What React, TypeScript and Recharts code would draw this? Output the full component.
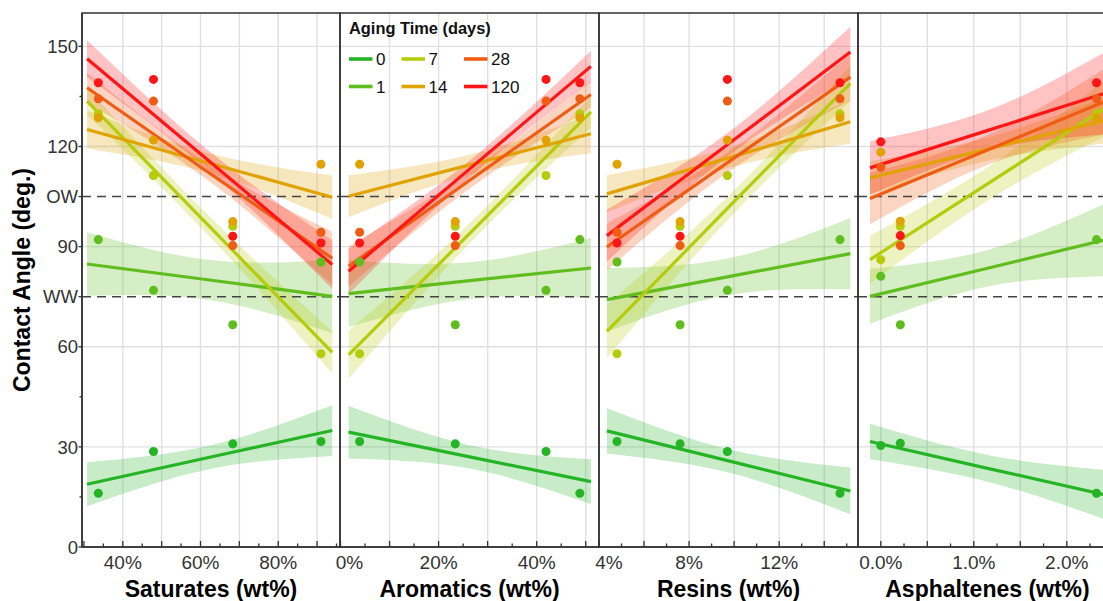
import React from 'react'
import { ComposedChart, Area, Line, Scatter, XAxis, YAxis, CartesianGrid, ReferenceLine } from 'recharts'

const FONT = '"Liberation Sans", Arial, Helvetica, sans-serif'

const AGING = ['0', '1', '7', '14', '28', '120']
const COLORS = ['#25b425', '#5fbd1e', '#b7cb0d', '#e1a203', '#ef5c14', '#fe1616']

// oil compositions (wt%), oils A..D
const SATURATES = [33.7, 47.9, 68.3, 91.0]
const AROMATICS = [48.8, 41.9, 23.4, 3.9]
const RESINS = [14.7, 9.7, 7.6, 4.8]
const ASPHALTENES = [0.0, 0.21, 2.32]

// contact angle (deg.) per oil, one row per aging time
const ANGLES = [
  [16.1, 28.6, 30.9, 31.6],
  [92.1, 76.9, 66.6, 85.4],
  [129.8, 111.3, 96.1, 57.9],
  [128.6, 121.9, 97.5, 114.7],
  [134.3, 133.6, 90.3, 94.3],
  [139.1, 140.1, 93.1, 91.1],
]
const ASPH_ANGLES = [
  [30.4, 31.1, 16.1],
  [81.1, 66.6, 92.1],
  [86.1, 96.1, 129.8],
  [118.3, 97.6, 128.6],
  [113.8, 90.3, 134.3],
  [121.4, 93.3, 139.1],
]

// fitted lines (left, middle, right) and band half widths
const SAT_FIT_X = [30.8, 62.35, 93.9]
const SAT_FIT = [
  [18.8, 26.9, 34.9],
  [84.8, 80.0, 75.1],
  [133.6, 96.0, 58.3],
  [125.1, 115.0, 104.8],
  [137.6, 112.0, 86.5],
  [146.3, 115.5, 84.6],
]
const SAT_BAND = [
  [6.6, 3.5, 7.6],
  [9.5, 6, 11],
  [4, 3, 6.3],
  [5.7, 3, 6.5],
  [4.5, 2.5, 8],
  [5.5, 3, 7.3],
]
const ARO_FIT_X = [1.65, 26.35, 51.05]
const ARO_FIT = [
  [34.4, 27.0, 19.6],
  [75.9, 79.8, 83.6],
  [57.6, 94.0, 130.4],
  [105.1, 114.5, 123.8],
  [84.1, 109.9, 135.6],
  [82.6, 113.3, 144.0],
]
const ARO_BAND = [
  [7.9, 3.5, 6.7],
  [10, 5.5, 9],
  [7.2, 3, 4.7],
  [6.3, 3, 5.8],
  [6, 2.5, 4],
  [6.8, 2.5, 4.7],
]
const RES_FIT_X = [4.35, 9.755, 15.16]
const RES_FIT = [
  [34.8, 25.8, 16.8],
  [74.1, 81.0, 87.9],
  [64.6, 101.8, 138.9],
  [105.8, 116.6, 127.4],
  [89.9, 115.4, 140.8],
  [93.3, 120.8, 148.3],
]
const RES_BAND = [
  [6.8, 3.5, 7],
  [9.5, 5.5, 10.7],
  [8, 3.5, 5.3],
  [5.6, 3, 6.5],
  [7, 3, 7],
  [7.8, 3.5, 7.6],
]
const ASP_FIT_X = [-0.116, 1.16, 2.436]
const ASP_FIT = [
  [31.6, 23.5, 15.5],
  [75.1, 83.6, 92.2],
  [86.1, 109.0, 132.0],
  [110.6, 119.3, 128.0],
  [104.4, 119.1, 133.8],
  [113.6, 124.9, 136.2],
]
const ASP_BAND = [
  [5.3, 4, 7.5],
  [8.2, 5.5, 11],
  [7.2, 5, 8.5],
  [5, 3.5, 7],
  [7.7, 4.5, 10],
  [8, 6, 12.5],
]

// axis ticks
const SAT_TICKS = [30, 35, 40, 45, 50, 55, 60, 65, 70, 75, 80, 85, 90, 95]
const SAT_MAJOR = [30, 40, 50, 60, 70, 80, 90]
const SAT_LABELS = [40, 60, 80]
const ARO_TICKS = [0, 5, 10, 15, 20, 25, 30, 35, 40, 45, 50]
const ARO_MAJOR = [0, 10, 20, 30, 40, 50]
const ARO_LABELS = [0, 20, 40]
const RES_TICKS = [4, 5, 6, 7, 8, 9, 10, 11, 12, 13, 14, 15]
const RES_MAJOR = [4, 6, 8, 10, 12, 14]
const RES_LABELS = [4, 8, 12]
const ASP_TICKS = [0, 0.25, 0.5, 0.75, 1, 1.25, 1.5, 1.75, 2, 2.25, 2.5]
const ASP_MAJOR = [0, 0.5, 1, 1.5, 2, 2.5]
const ASP_LABELS = [0, 1, 2]

const Y_TICKS = [0, 15, 30, 45, 60, 75, 90, 105, 120, 135, 150]
const Y_LABELS = ['0', '', '30', '', '60', 'WW', '90', 'OW', '120', '', '150']
const Y_GRID = [30, 60, 90, 120, 150]
const THRESHOLDS = [75, 105]

const PANELS = [
  {
    title: 'Saturates (wt%)', left: 0, width: 340, pad: 0, yAxis: true, domain: [29.5, 95.9],
    ticks: SAT_TICKS, majors: SAT_MAJOR, labels: SAT_LABELS, grid: SAT_MAJOR.slice(1),
    fmt: (v: number) => `${v}%`, shift: 0,
    xs: SATURATES, angles: ANGLES, fitX: SAT_FIT_X, fit: SAT_FIT, band: SAT_BAND,
  },
  {
    title: 'Aromatics (wt%)', left: 340, width: 259, pad: 20, yAxis: false, domain: [-0.1, 52.7],
    ticks: ARO_TICKS, majors: ARO_MAJOR, labels: ARO_LABELS, grid: ARO_MAJOR.slice(1),
    fmt: (v: number) => `${v}%`, shift: 9,
    xs: AROMATICS, angles: ANGLES, fitX: ARO_FIT_X, fit: ARO_FIT, band: ARO_BAND,
  },
  {
    title: 'Resins (wt%)', left: 599, width: 259, pad: 20, yAxis: false, domain: [4.0, 15.5],
    ticks: RES_TICKS, majors: RES_MAJOR, labels: RES_LABELS, grid: RES_MAJOR.slice(1),
    fmt: (v: number) => `${v}%`, shift: 10,
    xs: RESINS, angles: ANGLES, fitX: RES_FIT_X, fit: RES_FIT, band: RES_BAND,
  },
  {
    title: 'Asphaltenes (wt%)', left: 858, width: 259, pad: 20, yAxis: false, domain: [-0.245, 2.54],
    ticks: ASP_TICKS, majors: ASP_MAJOR, labels: ASP_LABELS, grid: ASP_MAJOR,
    fmt: (v: number) => `${v.toFixed(1)}%`, shift: 0,
    xs: ASPHALTENES, angles: ASPH_ANGLES, fitX: ASP_FIT_X, fit: ASP_FIT, band: ASP_BAND,
  },
]

const TOP = 13
const BOTTOM = 547
const Y_AXIS_W = 82

function fitRows(xs: number[], fit: number[][], band: number[][]) {
  return xs.map((x, i) => {
    const row: any = { x }
    fit.forEach((f, s) => {
      row['f' + s] = f[i]
      row['b' + s] = [f[i] - band[s][i], f[i] + band[s][i]]
    })
    return row
  })
}

function XTick(props: any) {
  const { x, y, payload, p } = props
  const v = payload.value
  const major = p.majors.includes(v)
  const label = p.labels.includes(v)
  return (
    <g>
      <line x1={x} x2={x} y1={y} y2={y - (major ? 6 : 3.5)} stroke="#333" strokeWidth={1.3} />
      {label && (
        <text x={x + (v === p.labels[0] ? p.shift : 0)} y={y + 22} textAnchor="middle"
          fontSize={19} fill="#333" fontFamily={FONT}>
          {p.fmt(v)}
        </text>
      )}
    </g>
  )
}

function YTick(props: any) {
  const { x, y, payload } = props
  const label = Y_LABELS[Y_TICKS.indexOf(payload.value)]
  return (
    <g>
      <line x1={x - (label ? 3.5 : 2.5)} x2={x} y1={y} y2={y} stroke="#333" strokeWidth={1.3} />
      {label && (
        <text x={x - 4} y={y} dy="0.36em" textAnchor="end" fontSize={18.5} fill="#333" fontFamily={FONT}>
          {label}
        </text>
      )}
    </g>
  )
}

function Panel({ p }: { p: any }) {
  const rows = fitRows(p.fitX, p.fit, p.band)
  return (
    <div style={{ position: 'absolute', left: p.left - p.pad, top: 0 }}>
      <ComposedChart width={p.width + p.pad} height={601} data={rows}
        margin={{ top: TOP, right: 0, bottom: 0, left: p.pad }}>
        <CartesianGrid stroke="#dfe0e6" strokeWidth={1.4}
          horizontalValues={Y_GRID} verticalValues={p.grid} />
        <XAxis dataKey="x" type="number" domain={p.domain} allowDataOverflow ticks={p.ticks}
          interval={0} height={601 - BOTTOM} tickSize={0} tickMargin={0} tickLine={false}
          axisLine={{ stroke: '#333', strokeWidth: 1.5 }}
          tick={(t: any) => <XTick {...t} p={p} />} />
        <YAxis dataKey="y" type="number" domain={[0, 160]} allowDataOverflow hide={!p.yAxis}
          width={p.yAxis ? Y_AXIS_W : 0} ticks={Y_TICKS} interval={0} tickSize={0} tickMargin={0}
          tickLine={false} axisLine={{ stroke: '#333', strokeWidth: 1.5 }}
          tick={(t: any) => <YTick {...t} />} />
        {AGING.map((a, s) => (
          <Area key={'b' + a} dataKey={'b' + s} type="natural" stroke="none" fill={COLORS[s]}
            fillOpacity={0.26} isAnimationActive={false} />
        ))}
        {THRESHOLDS.map((t) => (
          <ReferenceLine key={t} y={t} stroke="#444" strokeWidth={1.5} strokeDasharray="9 6" />
        ))}
        {AGING.map((a, s) => (
          <Line key={'f' + a} dataKey={'f' + s} type="linear" stroke={COLORS[s]} strokeWidth={3.2}
            dot={false} isAnimationActive={false} />
        ))}
        {AGING.map((a, s) => (
          <Scatter key={'p' + a} data={p.xs.map((x: number, i: number) => ({ x, y: p.angles[s][i] }))}
            dataKey="y" fill={COLORS[s]} isAnimationActive={false} />
        ))}
      </ComposedChart>
    </div>
  )
}

function Overlay() {
  const legendCols = [349, 401.5, 464]
  const legendRows = [59, 86.5]
  return (
    <svg width={1103} height={601} style={{ position: 'absolute', left: 0, top: 0, pointerEvents: 'none' }}>
      {PANELS.map((p) => {
        const x0 = p.left + (p.yAxis ? Y_AXIS_W : 0)
        const x1 = p.left + p.width
        return (
          <g key={p.title}>
            <rect x={x0} y={TOP} width={x1 - x0} height={BOTTOM - TOP} fill="none" stroke="#333" strokeWidth={1.5} />
            <text x={(x0 + x1) / 2} y={596.5} textAnchor="middle" fontSize={23} fontWeight="bold"
              fill="#000" fontFamily={FONT}>{p.title}</text>
          </g>
        )
      })}
      <text x={30} y={280} transform="rotate(-90, 30, 280)" textAnchor="middle" fontSize={23}
        fontWeight="bold" fill="#000" fontFamily={FONT}>Contact Angle (deg.)</text>
      <text x={349} y={34} fontSize={16.4} fontWeight="bold" fill="#111" fontFamily={FONT}>Aging Time (days)</text>
      {AGING.map((a, s) => {
        const cx = legendCols[Math.floor(s / 2)]
        const cy = legendRows[s % 2]
        return (
          <g key={a}>
            <line x1={cx} x2={cx + 23.5} y1={cy} y2={cy} stroke={COLORS[s]} strokeWidth={3.6} />
            <text x={cx + 27} y={cy} dy="0.36em" fontSize={17} fill="#111" fontFamily={FONT}>{a}</text>
          </g>
        )
      })}
    </svg>
  )
}

export default function App() {
  return (
    <div style={{ position: 'fixed', left: 0, top: 0, width: 1103, height: 601, overflow: 'hidden', background: '#fff' }}>
      {PANELS.map((p) => (
        <Panel key={p.title} p={p} />
      ))}
      <Overlay />
    </div>
  )
}
